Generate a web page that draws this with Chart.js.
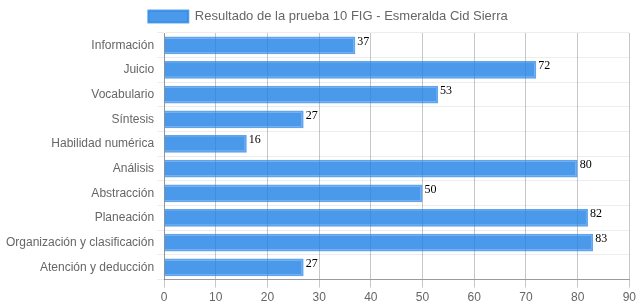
<!DOCTYPE html>
<html>
<head>
<meta charset="utf-8">
<script src="https://cdn.jsdelivr.net/npm/chart.js@4/dist/chart.umd.min.js"></script>
<style>
  html, body { margin: 0; padding: 0; background: #fff; }
  #wrap { width: 639px; height: 308px; }
</style>
</head>
<body>
<div id="wrap"><canvas id="chart"></canvas></div>
<script>
//? categories and scores
const areas = [
  'Información',
  'Juicio',
  'Vocabulario',
  'Síntesis',
  'Habilidad numérica',
  'Análisis',
  'Abstracción',
  'Planeación',
  'Organización y clasificación',
  'Atención y deducción',
]
const scores = [37, 72, 53, 27, 16, 80, 50, 82, 83, 27]
const seriesLabel = 'Resultado de la prueba 10 FIG - Esmeralda Cid Sierra'
const xMax = 90
const xStep = 10

Chart.defaults.font.family = "'Liberation Sans', Arial, Helvetica, sans-serif"
Chart.defaults.font.size = 12
Chart.defaults.color = '#666'

//* write the value next to each bar
const valueLabels = {
  id: 'valueLabels',
  afterLayout(chart) {
    // legend sits a bit right of centre in the original
    chart.legend.left += 8
    chart.legend.right += 8
  },
  afterDatasetsDraw(chart) {
    let ctx = chart.ctx
    ctx.save()
    ctx.font = "12px 'Liberation Serif', 'Times New Roman', serif"
    ctx.fillStyle = '#000'
    ctx.textAlign = 'left'
    ctx.textBaseline = 'top'
    chart.getDatasetMeta(0).data.forEach((bar, i) => {
      ctx.fillText(scores[i], bar.x + 2, bar.y - bar.height / 2 - 1)
    })
    ctx.restore()
  }
}

let ctx = document.getElementById('chart').getContext('2d')
chart = new Chart(ctx, {
  type: 'bar',
  data: {
    labels: areas,
    datasets: [
      {
        label: seriesLabel,
        data: scores,
        backgroundColor: 'rgba(30, 128, 229, 0.8)',
        borderColor: 'rgba(30, 128, 229, 0.7)',
        borderWidth: 2,
      },
    ],
  },
  options: {
    indexAxis: 'y',
    responsive: true,
    maintainAspectRatio: false,
    animation: false,
    layout: { padding: { top: 0, right: 2, bottom: 0, left: 3 } },
    plugins: {
      legend: {
        labels: { boxWidth: 40, boxHeight: 12, padding: 10, color: '#666', font: { size: 13 } },
      },
      tooltip: { enabled: false },
    },
    scales: {
      x: {
        min: 0,
        max: xMax,
        ticks: { stepSize: xStep, color: '#666' },
        grid: { color: 'rgba(0,0,0,0.22)', tickLength: 8 },
        border: { color: 'rgba(0,0,0,0.35)' },
      },
      y: {
        ticks: { color: '#666' },
        grid: { color: 'rgba(0,0,0,0.07)', tickLength: 7 },
        border: { color: 'rgba(0,0,0,0.25)' },
      },
    },
  },
  plugins: [valueLabels],
})
</script>
</body>
</html>
